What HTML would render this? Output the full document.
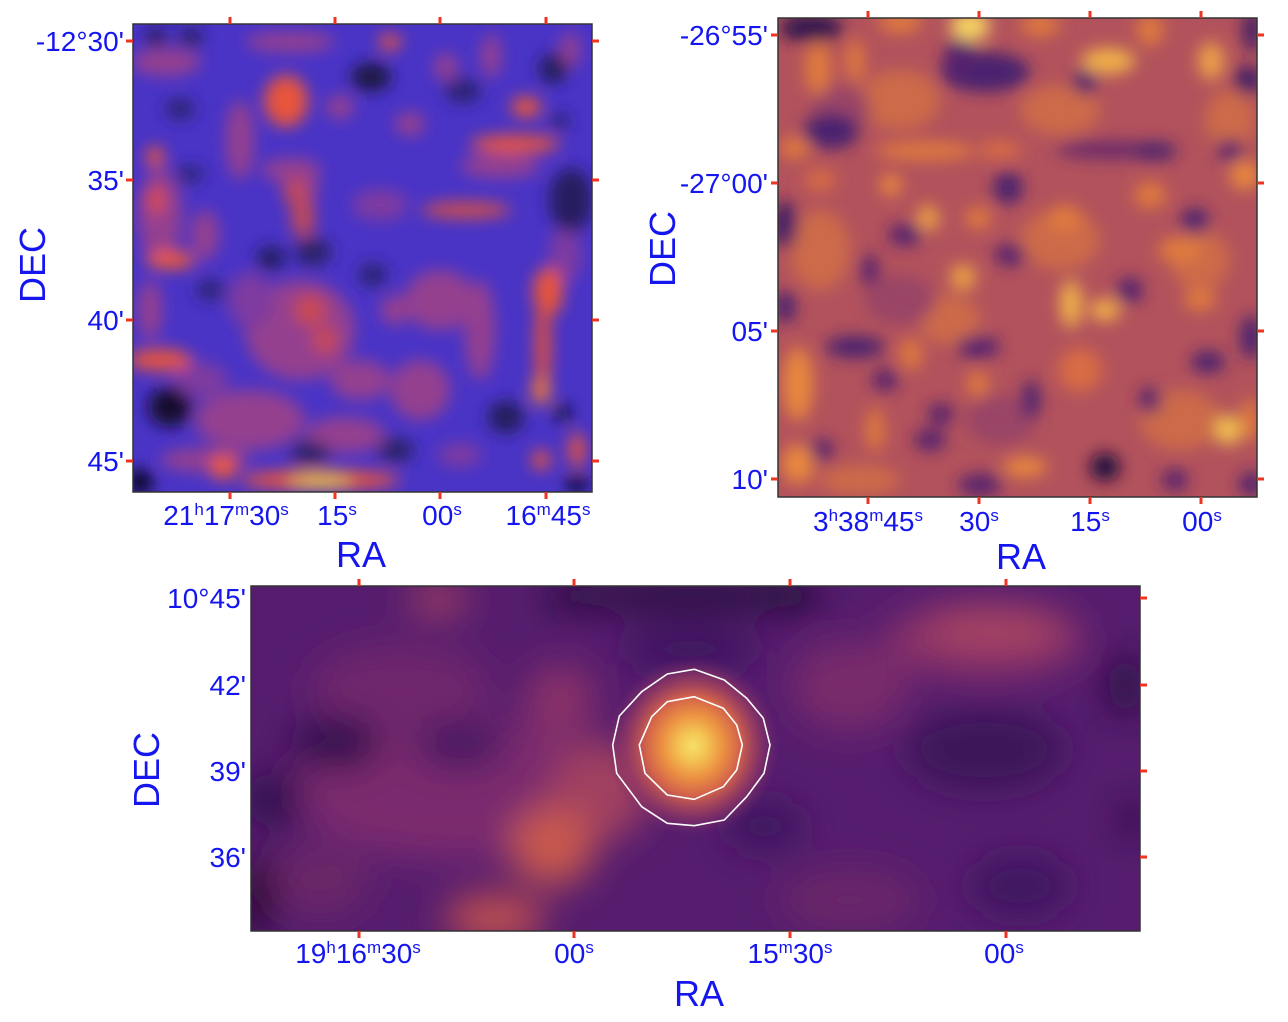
<!DOCTYPE html>
<html><head><meta charset="utf-8"><style>
html,body{margin:0;padding:0;background:#fff;}
svg{display:block;}
text{font-family:"Liberation Sans",Arial,sans-serif;fill:#1515f0;}
.t{font-size:28px;}
.s{font-size:17px;}
.big{font-size:36px;}
</style></head><body>
<svg width="1288" height="1022" viewBox="0 0 1288 1022" xmlns="http://www.w3.org/2000/svg">
<defs>
<clipPath id="c1"><rect x="133" y="24" width="459" height="468"/></clipPath>
<clipPath id="c2"><rect x="778" y="18" width="479" height="479"/></clipPath>
<clipPath id="c3"><rect x="251" y="586" width="889" height="345"/></clipPath>
<filter id="b1" x="-20%" y="-20%" width="140%" height="140%"><feGaussianBlur stdDeviation="8"/></filter>
<filter id="b2" x="-20%" y="-20%" width="140%" height="140%"><feGaussianBlur stdDeviation="8"/></filter>
<filter id="b3" x="-20%" y="-20%" width="140%" height="140%"><feGaussianBlur stdDeviation="18"/></filter>
<radialGradient id="g3" cx="0.5" cy="0.5" r="0.5">
<stop offset="0" stop-color="#f6de66"/>
<stop offset="0.15" stop-color="#f4c654"/>
<stop offset="0.35" stop-color="#ec9242"/>
<stop offset="0.55" stop-color="#d2624a"/>
<stop offset="0.78" stop-color="#9a3c62" stop-opacity="0.7"/>
<stop offset="1" stop-color="#7a2c6a" stop-opacity="0"/>
</radialGradient>
</defs>

<!-- PANEL 1 -->
<g clip-path="url(#c1)">
<rect x="133" y="24" width="459" height="468" fill="#4934c6"/>
<g filter="url(#b1)">
<ellipse cx="166" cy="62" rx="35" ry="14" fill="#94408f"/>
<ellipse cx="290" cy="42" rx="45" ry="10" fill="#94408f"/>
<ellipse cx="491" cy="56" rx="10" ry="22" fill="#94408f"/>
<ellipse cx="570" cy="50" rx="10" ry="18" fill="#94408f"/>
<ellipse cx="446" cy="67" rx="12" ry="14" fill="#94408f"/>
<ellipse cx="240" cy="140" rx="14" ry="40" fill="#94408f"/>
<ellipse cx="340" cy="107" rx="14" ry="12" fill="#94408f"/>
<ellipse cx="410" cy="124" rx="15" ry="12" fill="#94408f"/>
<ellipse cx="500" cy="166" rx="40" ry="12" fill="#94408f"/>
<ellipse cx="291" cy="170" rx="30" ry="12" fill="#94408f"/>
<ellipse cx="160" cy="215" rx="22" ry="45" fill="#94408f"/>
<ellipse cx="205" cy="235" rx="14" ry="25" fill="#94408f"/>
<ellipse cx="300" cy="185" rx="18" ry="25" fill="#94408f"/>
<ellipse cx="300" cy="330" rx="55" ry="50" fill="#94408f"/>
<ellipse cx="250" cy="420" rx="55" ry="30" fill="#94408f"/>
<ellipse cx="345" cy="435" rx="40" ry="18" fill="#94408f"/>
<ellipse cx="420" cy="390" rx="30" ry="30" fill="#94408f"/>
<ellipse cx="440" cy="300" rx="35" ry="30" fill="#94408f"/>
<ellipse cx="205" cy="460" rx="45" ry="12" fill="#94408f"/>
<ellipse cx="150" cy="310" rx="12" ry="30" fill="#94408f"/>
<ellipse cx="480" cy="330" rx="15" ry="50" fill="#94408f"/>
<ellipse cx="395" cy="310" rx="15" ry="15" fill="#94408f"/>
<ellipse cx="360" cy="380" rx="30" ry="20" fill="#94408f"/>
<ellipse cx="380" cy="205" rx="28" ry="16" fill="#7e3aa0"/>
<ellipse cx="250" cy="300" rx="22" ry="28" fill="#7e3aa0"/>
<ellipse cx="200" cy="380" rx="28" ry="18" fill="#7e3aa0"/>
<ellipse cx="460" cy="455" rx="22" ry="12" fill="#7e3aa0"/>
<ellipse cx="565" cy="255" rx="16" ry="28" fill="#7e3aa0"/>
<ellipse cx="286" cy="101" rx="22" ry="26" fill="#e8553a"/>
<ellipse cx="390" cy="42" rx="11" ry="8" fill="#e8553a"/>
<ellipse cx="526" cy="107" rx="15" ry="10" fill="#ec5836"/>
<ellipse cx="515" cy="144" rx="45" ry="9" fill="#e8553a"/>
<ellipse cx="155" cy="157" rx="9" ry="11" fill="#e8553a"/>
<ellipse cx="156" cy="200" rx="9" ry="14" fill="#d84c48"/>
<ellipse cx="466" cy="210" rx="45" ry="8" fill="#d25046"/>
<ellipse cx="170" cy="260" rx="25" ry="9" fill="#ee5a34"/>
<ellipse cx="548" cy="292" rx="15" ry="25" fill="#e8553a"/>
<ellipse cx="543" cy="345" rx="8" ry="50" fill="#dc5040"/>
<ellipse cx="541" cy="390" rx="9" ry="15" fill="#f07838"/>
<ellipse cx="160" cy="360" rx="32" ry="11" fill="#e8553a"/>
<ellipse cx="223" cy="467" rx="13" ry="13" fill="#ee5a34"/>
<ellipse cx="320" cy="480" rx="80" ry="10" fill="#e8553a"/>
<ellipse cx="320" cy="481" rx="32" ry="6" fill="#e8c850"/>
<ellipse cx="541" cy="460" rx="9" ry="10" fill="#e8553a"/>
<ellipse cx="577" cy="450" rx="8" ry="18" fill="#e8553a"/>
<ellipse cx="303" cy="218" rx="12" ry="20" fill="#c04858"/>
<ellipse cx="296" cy="193" rx="12" ry="15" fill="#c04858"/>
<ellipse cx="310" cy="310" rx="16" ry="16" fill="#c84a50"/>
<ellipse cx="325" cy="340" rx="12" ry="14" fill="#c84a50"/>
<ellipse cx="156" cy="37" rx="10" ry="8" fill="#1a1540"/>
<ellipse cx="191" cy="37" rx="12" ry="8" fill="#221a55"/>
<ellipse cx="371" cy="77" rx="20" ry="14" fill="#1a1540"/>
<ellipse cx="553" cy="69" rx="14" ry="15" fill="#241c5a"/>
<ellipse cx="463" cy="91" rx="18" ry="12" fill="#2c2270"/>
<ellipse cx="571" cy="200" rx="22" ry="32" fill="#261e60"/>
<ellipse cx="271" cy="258" rx="14" ry="12" fill="#241c5a"/>
<ellipse cx="313" cy="252" rx="18" ry="14" fill="#2a2066"/>
<ellipse cx="373" cy="275" rx="14" ry="12" fill="#2c2270"/>
<ellipse cx="170" cy="407" rx="22" ry="20" fill="#14102e"/>
<ellipse cx="506" cy="417" rx="18" ry="16" fill="#241c5a"/>
<ellipse cx="563" cy="413" rx="8" ry="8" fill="#101020"/>
<ellipse cx="310" cy="453" rx="20" ry="12" fill="#2a2066"/>
<ellipse cx="396" cy="450" rx="18" ry="12" fill="#2a2066"/>
<ellipse cx="140" cy="482" rx="12" ry="12" fill="#060608"/>
<ellipse cx="577" cy="484" rx="10" ry="8" fill="#060608"/>
<ellipse cx="180" cy="109" rx="15" ry="10" fill="#2c2270"/>
<ellipse cx="190" cy="174" rx="14" ry="8" fill="#2c2270"/>
<ellipse cx="560" cy="121" rx="10" ry="8" fill="#2c2270"/>
<ellipse cx="210" cy="290" rx="14" ry="10" fill="#2c2270"/>
</g>
</g>
<rect x="133" y="24" width="459" height="468" fill="none" stroke="#333" stroke-width="1.5"/>
<g stroke="#ee3322" stroke-width="3">
<line x1="230" y1="17" x2="230" y2="24"/><line x1="335" y1="17" x2="335" y2="24"/><line x1="440" y1="17" x2="440" y2="24"/><line x1="546" y1="17" x2="546" y2="24"/>
<line x1="230" y1="492" x2="230" y2="499"/><line x1="335" y1="492" x2="335" y2="499"/><line x1="440" y1="492" x2="440" y2="499"/><line x1="546" y1="492" x2="546" y2="499"/>
<line x1="126" y1="41" x2="133" y2="41"/><line x1="126" y1="180" x2="133" y2="180"/><line x1="126" y1="320" x2="133" y2="320"/><line x1="126" y1="461" x2="133" y2="461"/>
<line x1="592" y1="41" x2="599" y2="41"/><line x1="592" y1="180" x2="599" y2="180"/><line x1="592" y1="320" x2="599" y2="320"/><line x1="592" y1="461" x2="599" y2="461"/>
</g>
<text class="t" x="124" y="51" text-anchor="end">-12°30'</text>
<text class="t" x="124" y="190" text-anchor="end">35'</text>
<text class="t" x="124" y="330" text-anchor="end">40'</text>
<text class="t" x="124" y="471" text-anchor="end">45'</text>
<text class="t" x="226" y="525" text-anchor="middle">21<tspan class="s" dy="-10">h</tspan><tspan dy="10">17</tspan><tspan class="s" dy="-10">m</tspan><tspan dy="10">30</tspan><tspan class="s" dy="-10">s</tspan></text>
<text class="t" x="337" y="525" text-anchor="middle">15<tspan class="s" dy="-10">s</tspan></text>
<text class="t" x="442" y="525" text-anchor="middle">00<tspan class="s" dy="-10">s</tspan></text>
<text class="t" x="548" y="525" text-anchor="middle">16<tspan class="s" dy="-10">m</tspan><tspan dy="10">45</tspan><tspan class="s" dy="-10">s</tspan></text>
<text class="big" x="361" y="567" text-anchor="middle">RA</text>
<text class="big" x="0" y="0" text-anchor="middle" transform="translate(45,265) rotate(-90)">DEC</text>

<!-- PANEL 2 -->
<g clip-path="url(#c2)">
<rect x="778" y="18" width="479" height="479" fill="#b2525c"/>
<g filter="url(#b2)">
<ellipse cx="900" cy="100" rx="40" ry="30" fill="#cc6a48"/>
<ellipse cx="1060" cy="240" rx="40" ry="30" fill="#cc6a48"/>
<ellipse cx="1200" cy="260" rx="30" ry="30" fill="#cc6a48"/>
<ellipse cx="820" cy="250" rx="30" ry="40" fill="#cc6a48"/>
<ellipse cx="950" cy="320" rx="30" ry="25" fill="#cc6a48"/>
<ellipse cx="1180" cy="420" rx="40" ry="30" fill="#cc6a48"/>
<ellipse cx="860" cy="480" rx="40" ry="15" fill="#cc6a48"/>
<ellipse cx="1060" cy="110" rx="40" ry="25" fill="#cc6a48"/>
<ellipse cx="1230" cy="120" rx="25" ry="30" fill="#cc6a48"/>
<ellipse cx="840" cy="110" rx="30" ry="25" fill="#9a4466"/>
<ellipse cx="900" cy="300" rx="35" ry="25" fill="#9a4466"/>
<ellipse cx="1000" cy="420" rx="35" ry="25" fill="#9a4466"/>
<ellipse cx="811" cy="28" rx="32" ry="14" fill="#301550"/>
<ellipse cx="985" cy="72" rx="45" ry="20" fill="#4a2070"/>
<ellipse cx="960" cy="58" rx="16" ry="20" fill="#55246e"/>
<ellipse cx="1085" cy="82" rx="12" ry="12" fill="#4a2070"/>
<ellipse cx="1248" cy="80" rx="14" ry="14" fill="#3e1a66"/>
<ellipse cx="1252" cy="30" rx="9" ry="22" fill="#3e1a66"/>
<ellipse cx="831" cy="131" rx="28" ry="18" fill="#4a2070"/>
<ellipse cx="1110" cy="150" rx="55" ry="9" fill="#6a2c6a"/>
<ellipse cx="1155" cy="151" rx="22" ry="9" fill="#4a2070"/>
<ellipse cx="1008" cy="188" rx="15" ry="16" fill="#4a2070"/>
<ellipse cx="785" cy="225" rx="12" ry="24" fill="#3e1a66"/>
<ellipse cx="905" cy="235" rx="17" ry="11" fill="#55246e"/>
<ellipse cx="1195" cy="221" rx="14" ry="13" fill="#4a2070"/>
<ellipse cx="785" cy="307" rx="11" ry="16" fill="#4a2070"/>
<ellipse cx="855" cy="347" rx="30" ry="11" fill="#4a2070"/>
<ellipse cx="978" cy="347" rx="22" ry="11" fill="#55246e"/>
<ellipse cx="1208" cy="362" rx="17" ry="11" fill="#4a2070"/>
<ellipse cx="1031" cy="400" rx="9" ry="20" fill="#4a2070"/>
<ellipse cx="1105" cy="467" rx="15" ry="14" fill="#200a40"/>
<ellipse cx="821" cy="450" rx="13" ry="11" fill="#55246e"/>
<ellipse cx="941" cy="414" rx="13" ry="11" fill="#55246e"/>
<ellipse cx="885" cy="380" rx="13" ry="11" fill="#55246e"/>
<ellipse cx="1251" cy="337" rx="11" ry="22" fill="#4a2070"/>
<ellipse cx="1251" cy="484" rx="12" ry="12" fill="#4a2070"/>
<ellipse cx="1010" cy="255" rx="16" ry="11" fill="#55246e"/>
<ellipse cx="1130" cy="290" rx="13" ry="13" fill="#55246e"/>
<ellipse cx="930" cy="440" rx="16" ry="11" fill="#55246e"/>
<ellipse cx="980" cy="485" rx="22" ry="11" fill="#55246e"/>
<ellipse cx="1175" cy="480" rx="13" ry="11" fill="#55246e"/>
<ellipse cx="1150" cy="400" rx="11" ry="13" fill="#55246e"/>
<ellipse cx="1230" cy="150" rx="13" ry="11" fill="#55246e"/>
<ellipse cx="870" cy="270" rx="9" ry="16" fill="#55246e"/>
<ellipse cx="818" cy="68" rx="13" ry="27" fill="#e07a3c"/>
<ellipse cx="855" cy="61" rx="9" ry="22" fill="#e07a3c"/>
<ellipse cx="1108" cy="61" rx="27" ry="13" fill="#f0b048"/>
<ellipse cx="1211" cy="61" rx="13" ry="19" fill="#eda048"/>
<ellipse cx="900" cy="22" rx="22" ry="11" fill="#e07a3c"/>
<ellipse cx="1040" cy="25" rx="20" ry="11" fill="#e07a3c"/>
<ellipse cx="1150" cy="30" rx="13" ry="16" fill="#e07a3c"/>
<ellipse cx="795" cy="148" rx="15" ry="11" fill="#e07a3c"/>
<ellipse cx="925" cy="151" rx="50" ry="9" fill="#e07a3c"/>
<ellipse cx="1245" cy="175" rx="15" ry="15" fill="#e8883c"/>
<ellipse cx="891" cy="185" rx="11" ry="11" fill="#e8883c"/>
<ellipse cx="928" cy="218" rx="11" ry="13" fill="#eda045"/>
<ellipse cx="978" cy="218" rx="13" ry="11" fill="#e07a3c"/>
<ellipse cx="1065" cy="218" rx="17" ry="13" fill="#e07a3c"/>
<ellipse cx="963" cy="277" rx="13" ry="13" fill="#eda045"/>
<ellipse cx="1071" cy="304" rx="11" ry="24" fill="#f0b048"/>
<ellipse cx="1105" cy="310" rx="15" ry="11" fill="#f0b048"/>
<ellipse cx="911" cy="354" rx="11" ry="16" fill="#e07a3c"/>
<ellipse cx="798" cy="384" rx="15" ry="37" fill="#e8883c"/>
<ellipse cx="978" cy="384" rx="11" ry="13" fill="#e07a3c"/>
<ellipse cx="1228" cy="430" rx="13" ry="15" fill="#f2c050"/>
<ellipse cx="1025" cy="467" rx="22" ry="10" fill="#e8883c"/>
<ellipse cx="798" cy="464" rx="16" ry="20" fill="#e8883c"/>
<ellipse cx="1180" cy="250" rx="22" ry="13" fill="#e07a3c"/>
<ellipse cx="1150" cy="195" rx="16" ry="13" fill="#e07a3c"/>
<ellipse cx="1250" cy="420" rx="9" ry="22" fill="#e07a3c"/>
<ellipse cx="875" cy="430" rx="9" ry="22" fill="#e07a3c"/>
<ellipse cx="1000" cy="150" rx="22" ry="9" fill="#d86c44"/>
<ellipse cx="1200" cy="300" rx="16" ry="11" fill="#e07a3c"/>
<ellipse cx="820" cy="180" rx="16" ry="11" fill="#d86c44"/>
<ellipse cx="1080" cy="370" rx="22" ry="22" fill="#d86c44"/>
<ellipse cx="970" cy="26" rx="20" ry="15" fill="#f5d262"/>
</g>
</g>
<rect x="778" y="18" width="479" height="479" fill="none" stroke="#333" stroke-width="1.5"/>
<g stroke="#ee3322" stroke-width="3">
<line x1="868" y1="11" x2="868" y2="18"/><line x1="979" y1="11" x2="979" y2="18"/><line x1="1090" y1="11" x2="1090" y2="18"/><line x1="1201" y1="11" x2="1201" y2="18"/>
<line x1="868" y1="497" x2="868" y2="504"/><line x1="979" y1="497" x2="979" y2="504"/><line x1="1090" y1="497" x2="1090" y2="504"/><line x1="1201" y1="497" x2="1201" y2="504"/>
<line x1="771" y1="35" x2="778" y2="35"/><line x1="771" y1="183" x2="778" y2="183"/><line x1="771" y1="331" x2="778" y2="331"/><line x1="771" y1="479" x2="778" y2="479"/>
<line x1="1257" y1="35" x2="1264" y2="35"/><line x1="1257" y1="183" x2="1264" y2="183"/><line x1="1257" y1="331" x2="1264" y2="331"/><line x1="1257" y1="479" x2="1264" y2="479"/>
</g>
<text class="t" x="768" y="45" text-anchor="end">-26°55'</text>
<text class="t" x="768" y="193" text-anchor="end">-27°00'</text>
<text class="t" x="768" y="341" text-anchor="end">05'</text>
<text class="t" x="768" y="489" text-anchor="end">10'</text>
<text class="t" x="868" y="531" text-anchor="middle">3<tspan class="s" dy="-10">h</tspan><tspan dy="10">38</tspan><tspan class="s" dy="-10">m</tspan><tspan dy="10">45</tspan><tspan class="s" dy="-10">s</tspan></text>
<text class="t" x="979" y="531" text-anchor="middle">30<tspan class="s" dy="-10">s</tspan></text>
<text class="t" x="1090" y="531" text-anchor="middle">15<tspan class="s" dy="-10">s</tspan></text>
<text class="t" x="1202" y="531" text-anchor="middle">00<tspan class="s" dy="-10">s</tspan></text>
<text class="big" x="1021" y="569" text-anchor="middle">RA</text>
<text class="big" x="0" y="0" text-anchor="middle" transform="translate(675,249) rotate(-90)">DEC</text>

<!-- PANEL 3 -->
<g clip-path="url(#c3)">
<rect x="251" y="586" width="889" height="345" fill="#561d6e"/>
<g filter="url(#b3)">
<ellipse cx="460" cy="790" rx="170" ry="70" fill="#7a2b6e"/>
<ellipse cx="400" cy="690" rx="90" ry="45" fill="#70286c"/>
<ellipse cx="850" cy="686" rx="60" ry="45" fill="#782a6a"/>
<ellipse cx="985" cy="640" rx="100" ry="38" fill="#8a3068"/>
<ellipse cx="995" cy="628" rx="70" ry="20" fill="#a84462"/>
<ellipse cx="438" cy="600" rx="30" ry="16" fill="#a04060"/>
<ellipse cx="560" cy="700" rx="35" ry="35" fill="#8a3068"/>
<ellipse cx="850" cy="900" rx="70" ry="30" fill="#6a2868"/>
<ellipse cx="320" cy="880" rx="50" ry="35" fill="#6a2868"/>
<ellipse cx="600" cy="790" rx="50" ry="50" fill="#a04060"/>
<ellipse cx="552" cy="846" rx="42" ry="40" fill="#c8584e"/>
<ellipse cx="495" cy="918" rx="50" ry="24" fill="#c05050"/>
<ellipse cx="690" cy="596" rx="140" ry="18" fill="#2a1042"/>
<ellipse cx="567" cy="596" rx="16" ry="14" fill="#160a2a"/>
<ellipse cx="790" cy="596" rx="24" ry="14" fill="#160a2a"/>
<ellipse cx="336" cy="743" rx="45" ry="25" fill="#2c0e4c"/>
<ellipse cx="274" cy="800" rx="30" ry="25" fill="#2c0e4c"/>
<ellipse cx="258" cy="895" rx="14" ry="40" fill="#0a0515"/>
<ellipse cx="1125" cy="686" rx="18" ry="30" fill="#250d40"/>
<ellipse cx="1132" cy="819" rx="12" ry="18" fill="#250d40"/>
<ellipse cx="985" cy="750" rx="80" ry="40" fill="#3a1258"/>
<ellipse cx="765" cy="826" rx="40" ry="25" fill="#3e1460"/>
<ellipse cx="1020" cy="886" rx="50" ry="30" fill="#3e1460"/>
<ellipse cx="690" cy="650" rx="70" ry="22" fill="#3c1460"/>
<ellipse cx="460" cy="745" rx="45" ry="22" fill="#401560"/>
</g>
<ellipse cx="693" cy="746" rx="86" ry="90" fill="url(#g3)"/>
</g>
<rect x="251" y="586" width="889" height="345" fill="none" stroke="#333" stroke-width="1.5"/>
<g fill="none" stroke="#fff" stroke-width="1.6" stroke-linejoin="round">
<polygon points="694.3,669.3 724.3,680 746.7,698.3 763.3,718.3 770,745 764,773.3 746.7,796.7 724.3,820 694.3,825.7 667.3,823.3 641.7,806.7 616.7,773.3 612.7,745 619.3,716 641.7,691.7 667.3,674"/>
<polygon points="694.3,696.7 723.3,708.3 736.7,725 742.3,745 736.7,770 723.3,786.7 694.3,799.3 667.3,795 645,773.3 639.3,745 651.7,716.7 667.3,701.7"/>
</g>
<g stroke="#ee3322" stroke-width="3">
<line x1="359" y1="579" x2="359" y2="586"/><line x1="574" y1="579" x2="574" y2="586"/><line x1="790" y1="579" x2="790" y2="586"/><line x1="1006" y1="579" x2="1006" y2="586"/>
<line x1="359" y1="931" x2="359" y2="938"/><line x1="574" y1="931" x2="574" y2="938"/><line x1="790" y1="931" x2="790" y2="938"/><line x1="1006" y1="931" x2="1006" y2="938"/>
<line x1="1140" y1="598" x2="1147" y2="598"/><line x1="1140" y1="685" x2="1147" y2="685"/><line x1="1140" y1="771" x2="1147" y2="771"/><line x1="1140" y1="857" x2="1147" y2="857"/>
</g>
<text class="t" x="246" y="608" text-anchor="end">10°45'</text>
<text class="t" x="246" y="695" text-anchor="end">42'</text>
<text class="t" x="246" y="781" text-anchor="end">39'</text>
<text class="t" x="246" y="867" text-anchor="end">36'</text>
<text class="t" x="358" y="963" text-anchor="middle">19<tspan class="s" dy="-10">h</tspan><tspan dy="10">16</tspan><tspan class="s" dy="-10">m</tspan><tspan dy="10">30</tspan><tspan class="s" dy="-10">s</tspan></text>
<text class="t" x="574" y="963" text-anchor="middle">00<tspan class="s" dy="-10">s</tspan></text>
<text class="t" x="790" y="963" text-anchor="middle">15<tspan class="s" dy="-10">m</tspan><tspan dy="10">30</tspan><tspan class="s" dy="-10">s</tspan></text>
<text class="t" x="1004" y="963" text-anchor="middle">00<tspan class="s" dy="-10">s</tspan></text>
<text class="big" x="699" y="1006" text-anchor="middle">RA</text>
<text class="big" x="0" y="0" text-anchor="middle" transform="translate(159,770) rotate(-90)">DEC</text>
</svg>
</body></html>
